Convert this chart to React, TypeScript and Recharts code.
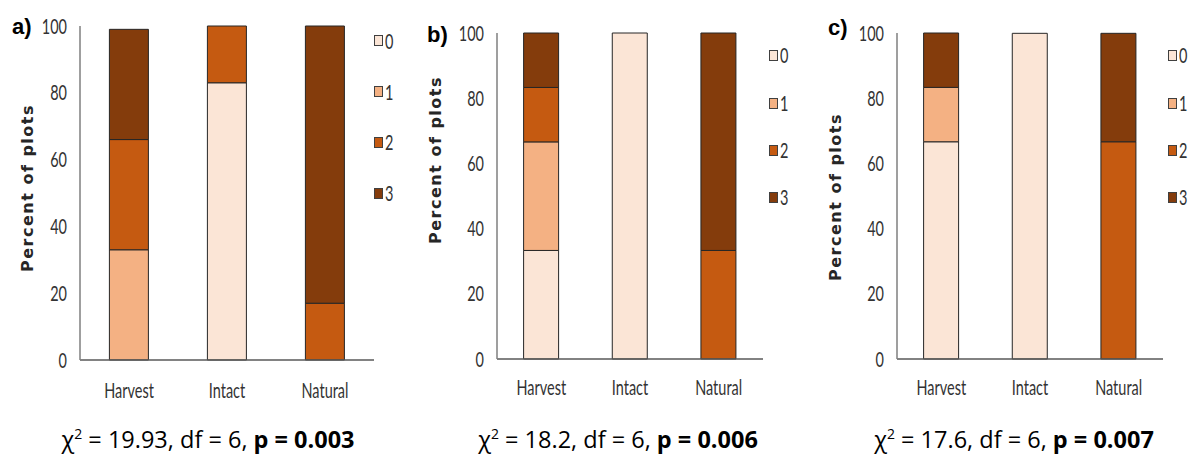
import React from 'react';
import { BarChart, Bar, XAxis, YAxis } from 'recharts';

const categories = ['Harvest', 'Intact', 'Natural'];
const seriesKeys = ['0', '1', '2', '3'];
const seriesColors = ['#FBE5D6', '#F4B183', '#C55A11', '#843C0C'];
const yTicks = [0, 20, 40, 60, 80, 100];

// panel a) values per series, in category order Harvest, Intact, Natural
const aS0 = [0, 83, 0];
const aS1 = [33, 0, 0];
const aS2 = [33, 17, 17];
const aS3 = [33, 0, 83];

const bS0 = [33.3, 100, 0];
const bS1 = [33.3, 0, 0];
const bS2 = [16.7, 0, 33.3];
const bS3 = [16.7, 0, 66.7];

const cS0 = [66.7, 100, 0];
const cS1 = [16.7, 0, 0];
const cS2 = [0, 0, 66.7];
const cS3 = [16.7, 0, 33.3];

const panelLetters = ['a)', 'b)', 'c)'];
const chiValues = ['19.93', '18.2', '17.6'];
const dfValues = ['6', '6', '6'];
const pValues = ['0.003', '0.006', '0.007'];

const buildRows = (s0: number[], s1: number[], s2: number[], s3: number[]) =>
  categories.map((c, i) => ({ cat: c, '0': s0[i], '1': s1[i], '2': s2[i], '3': s3[i] }));

const rowsA = buildRows(aS0, aS1, aS2, aS3);
const rowsB = buildRows(bS0, bS1, bS2, bS3);
const rowsC = buildRows(cS0, cS1, cS2, cS3);

const TICK_FONT = "Lato, 'Open Sans', sans-serif";
const TICK_SIZE = 21;
const SQUEEZE = 0.69;
const TICK_COLOR = '#333333';

const makeTick = (anchor: 'middle' | 'end', dy: number) => (props: any) => {
  const { x, y, payload } = props;
  return (
    <g transform={`translate(${x},${y})`}>
      <text
        transform={`scale(${SQUEEZE},1)`}
        x={0}
        y={dy}
        textAnchor={anchor}
        fill={TICK_COLOR}
        fontFamily={TICK_FONT}
        fontSize={TICK_SIZE}
      >
        {payload.value}
      </text>
    </g>
  );
};

type PanelProps = {
  rows: any[];
  left: number;
  width: number;
  margin: { top: number; right: number; bottom: number; left: number };
  titleX: number;
  titleY: number;
  xTickDy: number;
};

const Panel = ({ rows, left, width, margin, titleX, titleY, xTickDy }: PanelProps) => (
  <div style={{ position: 'absolute', left, top: 0, width, height: 455 }}>
    <BarChart width={width} height={455} data={rows} margin={margin} barCategoryGap="30%">
      <XAxis
        dataKey="cat"
        axisLine={{ stroke: '#595959', strokeWidth: 1.5 }}
        tickLine={false}
        tickSize={0}
        tickMargin={0}
        height={30}
        tick={makeTick('middle', xTickDy)}
        interval={0}
      />
      <YAxis
        domain={[0, 100]}
        ticks={yTicks}
        width={40}
        axisLine={{ stroke: '#7f7f7f', strokeWidth: 1.5 }}
        tickLine={false}
        tickSize={0}
        tickMargin={13}
        tick={makeTick('end', 7.5)}
        label={{
          content: () => (
            <text
              x={titleX}
              y={titleY}
              transform={`rotate(-90 ${titleX} ${titleY})`}
              textAnchor="middle"
              dominantBaseline="central"
              style={{ fontFamily: "'DejaVu Sans', sans-serif", fontWeight: 700, fontSize: 16, letterSpacing: 1.5, fill: '#262626' }}
            >
              Percent of plots
            </text>
          ),
        }}
      />
      {seriesKeys.map((k, i) => (
        <Bar
          key={k}
          dataKey={k}
          name={k}
          stackId="s"
          fill={seriesColors[i]}
          stroke="#262626"
          strokeWidth={1}
          isAnimationActive={false}
        />
      ))}
    </BarChart>
  </div>
);

const LegendBox = ({ left, centers }: { left: number; centers: number[] }) => (
  <>
    {seriesKeys.map((k, i) => (
      <div
        key={k}
        style={{ position: 'absolute', left, top: centers[i] - 12, height: 24, display: 'flex', alignItems: 'center' }}
      >
        <span
          style={{
            display: 'inline-block',
            width: 7,
            height: 9,
            background: seriesColors[i],
            border: '1px solid #404040',
            marginRight: 2,
          }}
        />
        <span
          style={{
            display: 'inline-block',
            fontFamily: TICK_FONT,
            fontSize: TICK_SIZE,
            lineHeight: '24px',
            color: TICK_COLOR,
            transform: `scale(${SQUEEZE},1)`,
            transformOrigin: 'left center',
          }}
        >
          {k}
        </span>
      </div>
    ))}
  </>
);

const Overlay = ({ idx, letterX, letterY, statX }: { idx: number; letterX: number; letterY: number; statX: number }) => (
  <>
    <div
      style={{
        position: 'absolute',
        left: letterX,
        top: letterY,
        fontFamily: "'Liberation Sans', Arial, sans-serif",
        fontWeight: 700,
        fontSize: 22,
        lineHeight: '22px',
        color: '#000',
      }}
    >
      {panelLetters[idx]}
    </div>
    <div
      style={{
        position: 'absolute',
        left: statX - 200,
        width: 400,
        top: 424,
        textAlign: 'center',
        fontFamily: "'Open Sans', sans-serif",
        fontSize: 23.5,
        lineHeight: '30px',
        color: '#000',
        whiteSpace: 'nowrap',
      }}
    >
      χ<sup style={{ fontSize: 14, lineHeight: '0px' }}>2</sup> = {chiValues[idx]}, df = {dfValues[idx]},{' '}
      <b>p = {pValues[idx]}</b>
    </div>
  </>
);

export default function App() {
  return (
    <div style={{ position: 'absolute', left: 0, top: 0, width: 1192, height: 455, background: '#fff', overflow: 'hidden' }}>
      <Panel
        rows={rowsA}
        left={0}
        width={400}
        margin={{ top: 26, right: 26, bottom: 65, left: 40 }}
        titleX={27}
        titleY={188}
        xTickDy={38}
      />
      <Panel
        rows={rowsB}
        left={400}
        width={400}
        margin={{ top: 33, right: 37, bottom: 66, left: 57 }}
        titleX={35}
        titleY={160}
        xTickDy={36}
      />
      <Panel
        rows={rowsC}
        left={800}
        width={392}
        margin={{ top: 33, right: 29, bottom: 66, left: 57 }}
        titleX={35}
        titleY={197}
        xTickDy={36}
      />
      <LegendBox left={374} centers={[40.5, 91.5, 142, 193]} />
      <LegendBox left={769} centers={[55, 103, 150, 197]} />
      <LegendBox left={1168} centers={[55, 103, 150, 197]} />
      <Overlay idx={0} letterX={12} letterY={16} statX={208} />
      <Overlay idx={1} letterX={427} letterY={24} statX={618} />
      <Overlay idx={2} letterX={828} letterY={17} statX={1014} />
    </div>
  );
}
